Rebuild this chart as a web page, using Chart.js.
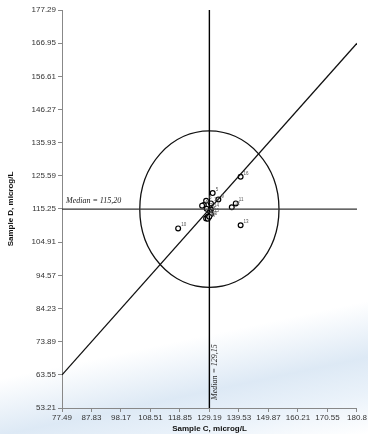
<!DOCTYPE html>
<html>
<head>
<meta charset="utf-8">
<script src="https://cdn.jsdelivr.net/npm/chart.js@4"></script>
<style>
html,body{
    margin:0;
    padding:0;
}
body{
    width:368px;
    height:434px;
    background:linear-gradient(168deg,#ffffff 0%,#ffffff 74%,#dde9f5 85%,#eaf2fa 92%,#ffffff 100%);
}
#wrap{
    position:relative;
    width:368px;
    height:434px;
}
</style>
</head>
<body>
<div id="wrap"><canvas id="yieldChart"></canvas></div>
<script>

// ------------------------------
// Data
// ------------------------------

const sampleC = [140.1,130.3,132.3,128.0,129.7,127.2,126.6,138.4,137.0,128.2,129.7,129.4,129.7,128.6,128.0,128.6,129.1,140.1,118.2];
const sampleD = [125.3,120.2,118.2,117.8,117.0,116.5,116.3,117.0,115.8,115.3,115.1,114.3,113.6,112.8,112.3,112.2,112.8,110.2,109.2];
const labCodes = ["16","5","9","6","19","3","4","11","12","7","14","8","15","1","2","17","20","13","10"];

const xTicks = [77.49,87.83,98.17,108.51,118.85,129.19,139.53,149.87,160.21,170.55,180.89];
const xTickText = ["77.49","87.83","98.17","108.51","118.85","129.19","139.53","149.87","160.21","170.55","180.8"];
const yTicks = [53.21,63.55,73.89,84.23,94.57,104.91,115.25,125.59,135.93,146.27,156.61,166.95,177.29];

const medianC = 129.15;
const medianD = 115.20;
const diagStart = [77.49,63.54];
const diagEnd = [180.89,166.94];
const circleRadius = 24.4;

// ------------------------------
// Points
// ------------------------------

const points = sampleC.map(function(c,i){
    return {x:c,y:sampleD[i]};
});

// ------------------------------
// Extra drawing (circle, median text, codes)
// ------------------------------

const extras = {
    id:"extras",
    beforeDatasetsDraw:function(chart){
        const ctx = chart.ctx;
        const xs = chart.scales.x;
        const ys = chart.scales.y;
        const cx = xs.getPixelForValue(medianC);
        const cy = ys.getPixelForValue(medianD);
        const rx = Math.abs(xs.getPixelForValue(medianC + circleRadius) - cx);
        const ry = Math.abs(ys.getPixelForValue(medianD + circleRadius) - cy);
        ctx.save();
        ctx.strokeStyle = "#111";
        ctx.lineWidth = 1.3;
        ctx.beginPath();
        ctx.ellipse(cx,cy,rx,ry,0,0,Math.PI*2);
        ctx.stroke();
        ctx.restore();
    },
    afterDatasetsDraw:function(chart){
        const ctx = chart.ctx;
        const xs = chart.scales.x;
        const ys = chart.scales.y;
        ctx.save();
        ctx.fillStyle = "#222";
        ctx.font = "italic 8px 'Liberation Serif'";
        ctx.textAlign = "left";
        ctx.textBaseline = "alphabetic";
        ctx.fillText("Median = 115,20", chart.chartArea.left + 4, ys.getPixelForValue(medianD) - 6);

        ctx.translate(xs.getPixelForValue(medianC) + 8, chart.chartArea.bottom - 8);
        ctx.rotate(-Math.PI/2);
        ctx.fillText("Median = 129,15", 0, 0);
        ctx.restore();

        ctx.save();
        ctx.fillStyle = "#555";
        ctx.font = "4.5px 'Liberation Sans'";
        points.forEach(function(p,i){
            ctx.fillText(labCodes[i], xs.getPixelForValue(p.x) + 3, ys.getPixelForValue(p.y) - 2);
        });
        ctx.restore();
    }
};

// ------------------------------
// Chart
// ------------------------------

const ctx = document.getElementById("yieldChart");

new Chart(ctx,{

    type:"scatter",

    data:{
        datasets:[
            {
                label:"Median D",
                data:[{x:xTicks[0],y:medianD},{x:xTicks[xTicks.length-1],y:medianD}],
                showLine:true,
                borderColor:"#333",
                borderWidth:1.4,
                pointRadius:0
            },
            {
                label:"Median C",
                data:[{x:medianC,y:yTicks[0]},{x:medianC,y:yTicks[yTicks.length-1]}],
                showLine:true,
                borderColor:"#000",
                borderWidth:1.4,
                pointRadius:0
            },
            {
                label:"Diagonal",
                data:[{x:diagStart[0],y:diagStart[1]},{x:diagEnd[0],y:diagEnd[1]}],
                showLine:true,
                borderColor:"#111",
                borderWidth:1.3,
                pointRadius:0
            },
            {
                label:"Labs",
                data:points,
                pointRadius:2.4,
                pointBorderWidth:1.2,
                pointBorderColor:"#000",
                pointBackgroundColor:"#fff"
            }
        ]
    },

    options:{
        responsive:true,
        maintainAspectRatio:false,
        animation:false,
        layout:{
            padding:{top:10,right:0,left:6,bottom:0}
        },
        plugins:{
            legend:{display:false},
            tooltip:{enabled:false}
        },
        scales:{
            x:{
                type:"linear",
                min:xTicks[0],
                max:xTicks[xTicks.length-1],
                afterBuildTicks:function(axis){
                    axis.ticks = xTicks.map(function(v){ return {value:v}; });
                },
                afterFit:function(axis){
                    axis.height = 26;
                },
                grid:{
                    display:true,
                    drawOnChartArea:false,
                    tickLength:4,
                    color:"#888"
                },
                border:{color:"#888",width:1},
                ticks:{
                    autoSkip:false,
                    maxRotation:0,
                    padding:1,
                    color:"#333",
                    font:{family:"Liberation Sans",size:8},
                    callback:function(value,index){
                        return xTickText[index];
                    }
                },
                title:{
                    display:true,
                    text:"Sample C, microg/L",
                    color:"#111",
                    padding:{top:0,bottom:0},
                    font:{family:"Liberation Sans",size:8,weight:"bold"}
                }
            },
            y:{
                type:"linear",
                min:yTicks[0],
                max:yTicks[yTicks.length-1],
                afterBuildTicks:function(axis){
                    axis.ticks = yTicks.map(function(v){ return {value:v}; });
                },
                afterFit:function(axis){
                    axis.width = 56;
                },
                grid:{
                    display:true,
                    drawOnChartArea:false,
                    tickLength:4,
                    color:"#888"
                },
                border:{color:"#888",width:1},
                ticks:{
                    autoSkip:false,
                    padding:2,
                    color:"#333",
                    font:{family:"Liberation Sans",size:8},
                    callback:function(value){
                        return value.toFixed(2);
                    }
                },
                title:{
                    display:true,
                    text:"Sample D, microg/L",
                    color:"#111",
                    padding:{top:0,bottom:0},
                    font:{family:"Liberation Sans",size:8,weight:"bold"}
                }
            }
        }
    },

    plugins:[extras]

});

</script>
</body>
</html>
